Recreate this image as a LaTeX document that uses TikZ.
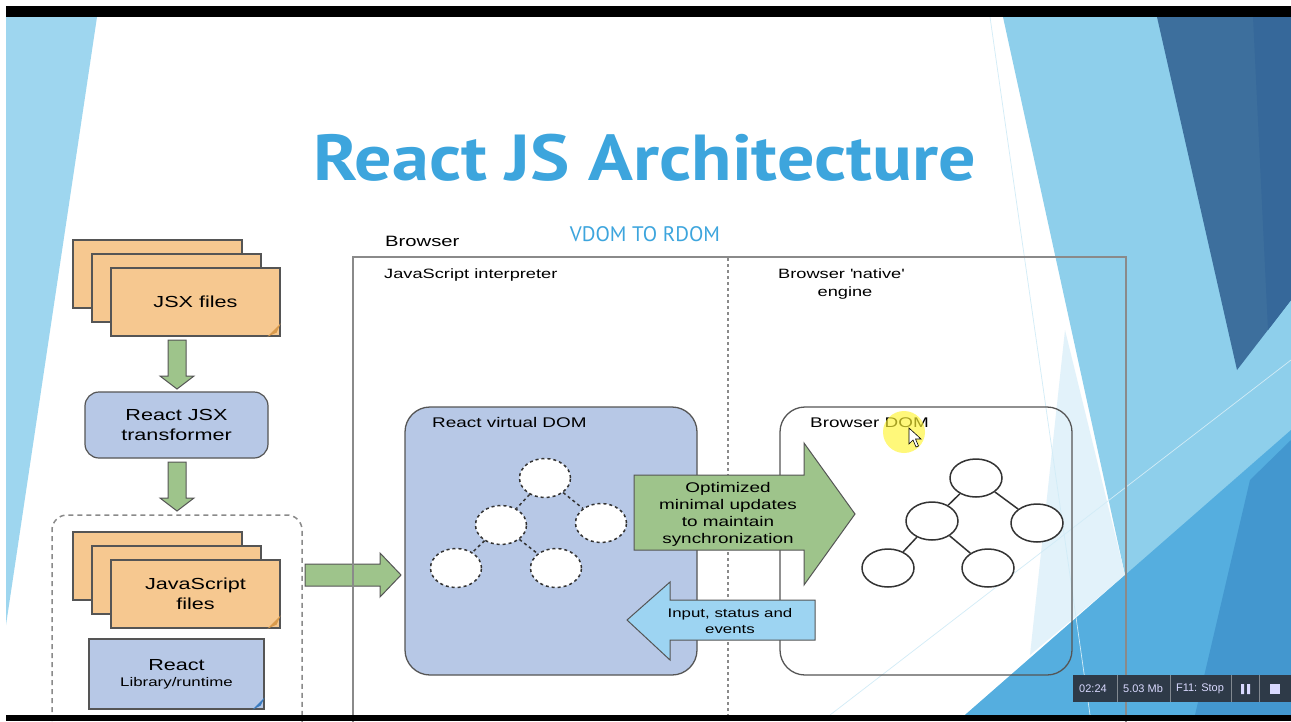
\documentclass[tikz,border=0pt]{standalone}
\usepackage{fontspec}
\setmainfont{Liberation Sans}
\newfontfamily\diagfont[FakeStretch=1.35]{Liberation Sans}
\newfontfamily\slidefont{PT Sans}
\newfontfamily\headfont[FakeStretch=1.14]{PT Sans}
\usetikzlibrary{shapes.geometric,calc}

\definecolor{titleblue}{HTML}{3DA5DD}
\definecolor{bandblue}{HTML}{9ED6EF}
\definecolor{lightfacet}{HTML}{8ECFEB}
\definecolor{palefacet}{HTML}{E2F2FA}
\definecolor{darkfacet}{HTML}{3D6F9D}
\definecolor{darkerfacet}{HTML}{36689A}
\definecolor{midfacet}{HTML}{55AEDF}
\definecolor{deepfacet}{HTML}{4397CF}
\definecolor{pageorange}{HTML}{F6C890}
\definecolor{foldorange}{HTML}{D99A4C}
\definecolor{lilac}{HTML}{B7C8E6}
\definecolor{foldblue}{HTML}{3B7CC0}
\definecolor{arrowgreen}{HTML}{9EC48B}
\definecolor{arrowblue}{HTML}{9DD4F2}
\definecolor{framegray}{HTML}{8A8A8A}
\definecolor{linegray}{HTML}{555555}
\definecolor{barslate}{HTML}{2E3A48}

\begin{document}
\begin{tikzpicture}[x=1pt,y=-1pt,
  page/.style={draw=linegray, line width=1.2, fill=pageorange},
  panel/.style={draw=linegray, line width=1.3, rounded corners=25},
  blockarrow/.style={draw=linegray, line width=1, fill=arrowgreen},
  vnode/.style={ellipse, draw=black!80, dashed, line width=1.5, fill=white,
    minimum width=51, minimum height=39, inner sep=0},
  rnode/.style={ellipse, draw=black!80, line width=1.5, fill=white,
    minimum width=52, minimum height=38, inner sep=0},
  lbl/.style={font=\diagfont\fontsize{14}{17}\selectfont, inner sep=0},
  boxtext/.style={font=\diagfont\fontsize{16}{20}\selectfont, align=center, inner sep=0},
  bartext/.style={font=\fontsize{11}{13}\selectfont, text=white!85!blue, inner sep=0}]
\useasboundingbox (0,0) rectangle (1291,721);
\fill[white] (0,0) rectangle (1291,721);

% slide background
\fill[bandblue] (6,17) -- (97,17) -- (6,625) -- cycle;
\fill[lightfacet] (1003,17) -- (1291,17) -- (1291,715) -- (965,715) -- (1125,575) -- cycle;
\fill[palefacet] (1065,330) -- (1125,575) -- (1030,655) -- cycle;
\fill[midfacet] (965,715) -- (1291,430) -- (1291,715) -- cycle;
\fill[deepfacet] (1195,715) -- (1250,480) -- (1291,440) -- (1291,715) -- cycle;
\fill[darkfacet] (1157,17) -- (1291,17) -- (1291,300) -- (1237,370) -- cycle;
\fill[darkerfacet] (1253,17) -- (1291,17) -- (1291,300) -- (1268,330) -- cycle;
\draw[white!60!lightfacet, line width=0.7] (990,17) -- (1090,715);
\draw[white!60!lightfacet, line width=0.7] (830,715) -- (1291,360);

\node[font=\headfont\bfseries\fontsize{65}{70}\selectfont, text=titleblue, anchor=base, inner sep=0]
  (title) at (645,180) {React JS Architecture};

% left column
\foreach \y in {240,532}
  \foreach \i in {0,1}
    \draw[page] (73+19*\i,\y+14*\i) rectangle ++(169,68);
\node[page, boxtext, minimum width=169, minimum height=68] (jsx) at (195.5,302) {JSX files};
\node[page, boxtext, minimum width=169, minimum height=68] (jsfiles) at (195.5,594) {JavaScript\\files};
\foreach \n in {jsx,jsfiles}
  \fill[foldorange] ($(\n.south east)+(-13,0)$) -- ($(\n.south east)+(0,-13)$) -- ($(\n.south east)+(-4,-4)$) -- cycle;

\node[boxtext, draw=linegray, line width=1.2, fill=lilac, rounded corners=14,
  minimum width=183, minimum height=66] (jsxt) at (176.5,425) {React JSX\\transformer};
\node[draw=linegray, line width=1.2, fill=lilac, minimum width=175, minimum height=70,
  align=center, inner sep=0] (lib) at (176.5,674)
  {{\diagfont\fontsize{16}{20}\selectfont React}\\[4pt]{\diagfont\fontsize{12.5}{15}\selectfont Library/runtime}};
\fill[foldblue] ($(lib.south east)+(-12,0)$) -- ($(lib.south east)+(0,-12)$) -- ($(lib.south east)+(-4,-4)$) -- cycle;

\foreach \y in {340,462}
  \draw[blockarrow] (168,\y) -- ++(18,0) -- ++(0,36) -- ++(8,0) -- ++(-17,13) -- ++(-17,-13) -- ++(8,0) -- cycle;
\draw[framegray, line width=1.5, dash pattern=on 5 off 4, rounded corners=15] (52,730) -- (52,515) -- (302,515) -- (302,730);
\draw[blockarrow] (305,564) -- (380,564) -- (380,553) -- (401,575) -- (380,597) -- (380,586) -- (305,586) -- cycle;

% browser
\draw[framegray, line width=1.8] (353,730) -- (353,257) -- (1126,257) -- (1126,730);
\draw[framegray, line width=2.5, dash pattern=on 3 off 3] (728,258) -- (728,715);
\node[lbl, font=\diagfont\fontsize{15}{18}\selectfont, anchor=base west] (browser) at (385,246) {Browser};
\node[font=\slidefont\fontsize{21}{24}\selectfont, text=titleblue, anchor=base, inner sep=0] (vr) at (645,241) {VDOM TO RDOM};
\node[lbl, font=\diagfont\fontsize{13.5}{17}\selectfont, anchor=base west] (jsi) at (384,278) {JavaScript interpreter};
\node[lbl, font=\diagfont\fontsize{13.5}{17}\selectfont, anchor=base west] (native) at (778,278) {Browser \textquotesingle native\textquotesingle};
\node[lbl, font=\diagfont\fontsize{13.5}{17}\selectfont, anchor=base] (engine) at (845,296) {engine};

\node[panel, fill=lilac, minimum width=292, minimum height=268] (vdom) at (551,541) {};
\node[lbl, anchor=base west] at (432,427) {React virtual DOM};
\node[panel, minimum width=292, minimum height=268] (bdom) at (926,541) {};
\node[lbl, anchor=base west] at (810,427) {Browser DOM};

\node[vnode] (v1) at (545,478) {};
\node[vnode] (v2) at (501,525) {};
\node[vnode] (v3) at (601,523) {};
\node[vnode] (v4) at (456,568) {};
\node[vnode] (v5) at (556,568) {};
\foreach \a/\b in {v1/v2,v1/v3,v2/v4,v2/v5}
  \draw[black!80, dashed, line width=1.5] (\a) -- (\b);

\node[rnode] (r1) at (976,478) {};
\node[rnode] (r2) at (932,521) {};
\node[rnode] (r3) at (1037,523) {};
\node[rnode] (r4) at (888,568) {};
\node[rnode] (r5) at (988,568) {};
\foreach \a/\b in {r1/r2,r1/r3,r2/r4,r2/r5}
  \draw[black!80, line width=1.5] (\a) -- (\b);

\draw[blockarrow] (634,475) -- (804,475) -- (804,443) -- (855,514) -- (804,585) -- (804,550) -- (634,550) -- cycle;
\node[lbl, align=center] (sync) at (728,514) {Optimized\\minimal updates\\to maintain\\synchronization};
\draw[blockarrow, fill=arrowblue] (815,600) -- (670,600) -- (670,582) -- (627,620) -- (670,660) -- (670,640) -- (815,640) -- cycle;
\node[lbl, font=\diagfont\fontsize{12.5}{15.5}\selectfont, align=center] (events) at (730,621) {Input, status and\\events};

% pointer
\fill[yellow!80!white, opacity=0.65] (904,432) circle (21);
\draw[black, fill=white, line width=0.6] (909,428) -- ++(0,16) -- ++(4,-4) -- ++(3,7) -- ++(2.5,-1) -- ++(-3,-7) -- ++(5.5,0) -- cycle;

% screen bars and recorder
\fill[black] (6,6) rectangle (1291,17);
\fill[black] (6,715) rectangle (1291,721);
\fill[barslate] (1073,675) rectangle (1291,702);
\foreach \x in {1117,1170,1231,1259}
  \draw[white!40!barslate] (\x,675) -- (\x,702);
\node[bartext] (clock) at (1093,689) {02:24};
\node[bartext] (size) at (1143,689) {5.03 Mb};
\node[bartext] (stop) at (1200,689) {F11: Stop};
\fill[white!85!blue] (1241,684) rectangle ++(3,10) (1247,684) rectangle ++(3,10);
\fill[white!85!blue] (1270,684) rectangle ++(10,10);
\end{tikzpicture}
\end{document}
